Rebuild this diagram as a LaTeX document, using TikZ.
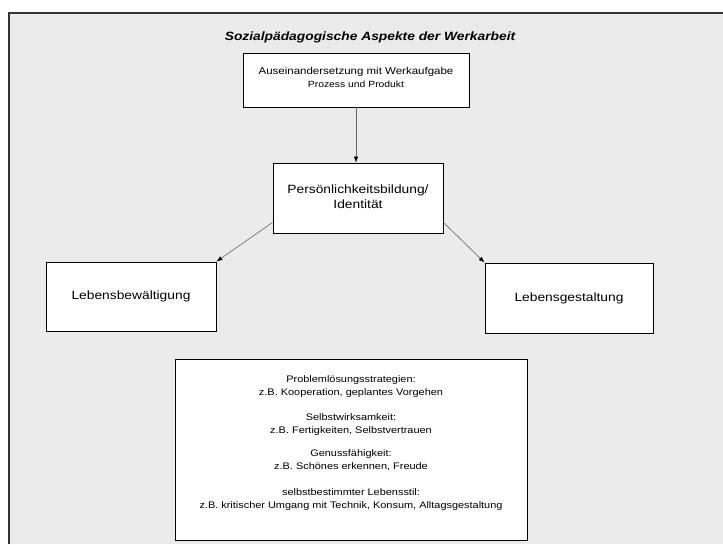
\documentclass[tikz,border=0pt]{standalone}
\usepackage{fontspec}
\setmainfont{Liberation Sans}[FakeStretch=1.15]
\usetikzlibrary{arrows.meta}
\tikzset{
  box/.style={draw=black, line width=0.9pt, fill=white, inner sep=0pt, align=center},
  txt/.style={inner sep=0pt, align=center},
  conn/.style={draw=black!60, line width=0.6pt, -{Latex[length=6pt,width=4.5pt,color=black]}},
}
\begin{document}
\begin{tikzpicture}[x=1pt,y=-1pt]
\useasboundingbox (0,0) rectangle (723,544);
\fill[white] (0,0) rectangle (723,544);
\fill[black!8] (9,13) rectangle (723,544);
\draw[black!80, line width=1.5pt] (9,544) -- (9,13) -- (723,13);

\node[txt, font=\fontsize{12}{14}\selectfont\bfseries\itshape] (title) at (370,37) {Sozialpädagogische Aspekte der Werkarbeit};

\node[box, minimum width=226pt, minimum height=54pt] (top) at (356,80) {};
\node[txt] (toptxt) at (356,77.5) {{\fontsize{10}{10}\selectfont Auseinandersetzung mit Werkaufgabe}\\[1pt]{\fontsize{9}{9}\selectfont Prozess und Produkt}};

\node[box, minimum width=170pt, minimum height=70pt] (mid) at (358,198) {};
\node[txt, font=\fontsize{12}{15}\selectfont] (midtxt) at (358,196.5) {Persönlichkeitsbildung/\\Identität};

\node[box, minimum width=170pt, minimum height=69pt, font=\fontsize{12}{14}\selectfont] (left) at (131,296.5) {Lebensbewältigung};
\node[box, minimum width=168pt, minimum height=70pt, font=\fontsize{12}{14}\selectfont] (right) at (569,298) {Lebensgestaltung};

\node[box, minimum width=352pt, minimum height=181pt] (bot) at (351,449.5) {};
\node[txt, font=\fontsize{9.5}{13}\selectfont] (bottxt) at (351,443) {Problemlösungsstrategien:\\z.B. Kooperation, geplantes Vorgehen\\[12pt]Selbstwirksamkeit:\\z.B. Fertigkeiten, Selbstvertrauen\\[10pt]Genussfähigkeit:\\z.B. Schönes erkennen, Freude\\[13pt]selbstbestimmter Lebensstil:\\z.B. kritischer Umgang mit Technik, Konsum, Alltagsgestaltung};

\draw[conn] (top.south) -- (top.south |- mid.north);
\draw[conn] ([yshift=11pt]mid.south west) -- (left.north east);
\draw[conn] ([yshift=11pt]mid.south east) -- (right.north west);
\end{tikzpicture}
\end{document}
